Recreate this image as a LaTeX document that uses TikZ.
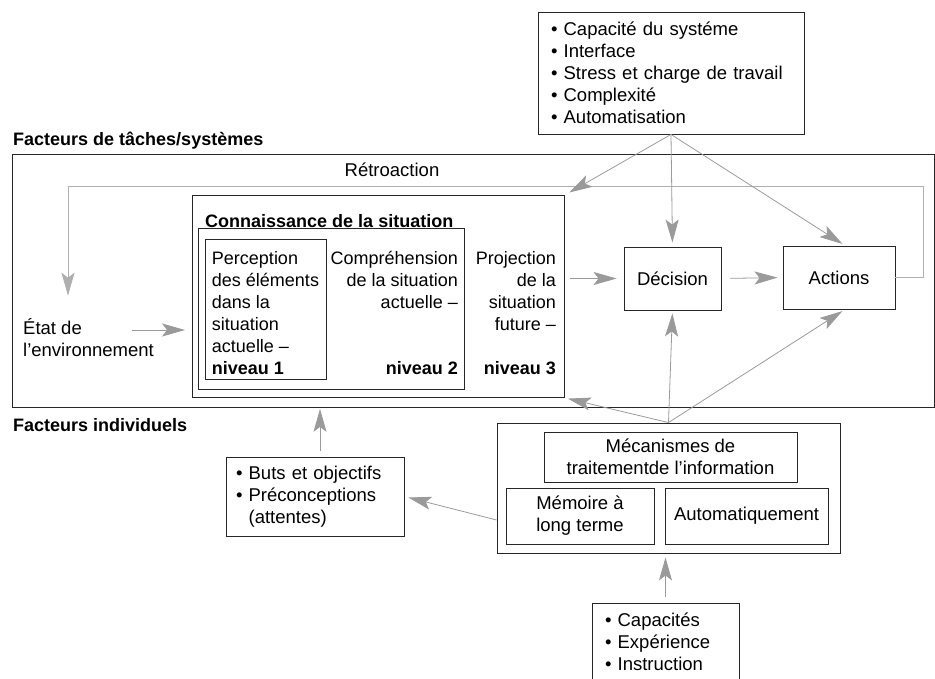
\documentclass[tikz,border=0pt]{standalone}
\usepackage{fontspec}
\setmainfont{Liberation Sans}
\usetikzlibrary{arrows.meta}
\definecolor{arrgray}{HTML}{9A9A9A}
\definecolor{fbgray}{HTML}{AFAFAF}

\begin{document}
\begin{tikzpicture}[
    x=1pt, y=-1pt,
    every node/.style={font=\fontsize{18.5}{22}\selectfont, inner sep=0pt},
    box/.style={rectangle, draw=black!85, line width=0.9pt, align=center},
    sa text/.style={font=\fontsize{18}{22}\selectfont},
    title/.style={font=\fontsize{18}{22}\selectfont\bfseries, anchor=west},
    arr/.style={draw=arrgray, line width=0.8pt, -{Stealth[length=23pt, width=13pt, inset=5pt]}}
]
\useasboundingbox (0,0) rectangle (935,678);

% facteurs de taches / systemes
\node (sys) [box, minimum width=266pt, minimum height=122pt, text width=240pt, align=left] at (671,73) {• Capacité du systéme\\• Interface\\• Stress et charge de travail\\• Complexité\\• Automatisation};
\node (tasks) [title] at (13,141) {Facteurs de tâches/systèmes};
\node (frame) [box, minimum width=922pt, minimum height=253pt, anchor=north west] at (12,154) {};
\node (retro) at (392,170) {Rétroaction};

% connaissance de la situation
\node (sa) [box, minimum width=372pt, minimum height=202pt, anchor=north west] at (192,195) {};
\node (satitle) [title] at (205,221) {Connaissance de la situation};
\node (lvl2) [box, minimum width=266pt, minimum height=161pt, anchor=north west] at (198,228) {};
\node (lvl1) [box, sa text, minimum width=121pt, minimum height=140pt, align=left] at (265.5,309) {\rule{0pt}{21pt}Perception\\des éléments\\dans la\\situation\\actuelle –\\\textbf{niveau 1}};
\node (comp) [sa text, anchor=east, align=right] at (458,313) {Compréhension\\de la situation\\actuelle –\\\mbox{}\\\mbox{}\\\textbf{niveau 2}};
\node (proj) [sa text, anchor=east, align=right] at (556,313) {Projection\\de la\\situation\\future –\\\mbox{}\\\textbf{niveau 3}};
\node (env) [anchor=west, align=left] at (23,338) {État de\\l’environnement};

\node (dec) [box, minimum width=97pt, minimum height=63pt] at (672.5,278.5) {Décision};
\node (act) [box, minimum width=112pt, minimum height=63pt] at (839,277.5) {Actions};

% facteurs individuels
\node (indivlab) [title] at (13,425) {Facteurs individuels};
\node (indiv) [box, minimum width=343pt, minimum height=130pt] at (668.5,488) {};
\node (meca) [box, minimum width=253pt, minimum height=50pt] at (670.5,457) {Mécanismes de\\traitementde l’information};
\node (mem) [box, minimum width=148pt, minimum height=56pt] at (580,516) {Mémoire à\\long terme};
\node (auto) [box, minimum width=163pt, minimum height=56pt] at (746.5,516) {Automatiquement};
\node (buts) [box, minimum width=178pt, minimum height=79pt, text width=158pt, align=left] at (315,496.5) {• Buts et objectifs\\• Préconceptions\\\phantom{• }(attentes)};
\node (capa) [box, minimum width=147pt, minimum height=78pt, text width=121pt, align=left] at (665.5,642) {• Capacités\\• Expérience\\• Instruction};

\coordinate (envout) at (132,330);
\coordinate (fbr) at (923,186);
\coordinate (fbl) at (68,186);

\draw[arr, shorten >=7pt] (envout) -- (envout -| sa.west);
\draw[arr, shorten <=14pt, shorten >=7pt] (proj.east |- dec.west) -- (dec.west);
\draw[arr, shorten <=9pt, shorten >=5pt] (dec.east) -- (act.west);
\draw[arr, draw=fbgray, shorten >=23pt] (act.east) -| (fbr) -- (fbl) -- (fbl |- env.north);

\draw[arr, shorten >=5pt] (sys.south) -- (sa.north east);
\draw[arr, shorten >=4pt] (sys.south) -- (dec.north);
\draw[arr, shorten >=3pt] (sys.south) -- ([xshift=6pt]act.north);

\draw[arr, shorten >=3pt] (indiv.north) -- (dec.south);
\draw[arr, shorten >=3pt] (indiv.north) -- ([xshift=6pt]act.south);
\draw[arr, shorten >=3pt] (indiv.north) -- (sa.south east);
\draw[arr, shorten <=6pt, shorten >=1pt] ([xshift=5pt]buts.north) -- ([xshift=5pt]buts.north |- frame.south);
\draw[arr, shorten >=4pt] ([yshift=-32pt]indiv.west) -- (buts.east);
\draw[arr, shorten <=6pt, shorten >=4pt] (capa.north) -- (capa.north |- indiv.south);
\end{tikzpicture}
\end{document}
